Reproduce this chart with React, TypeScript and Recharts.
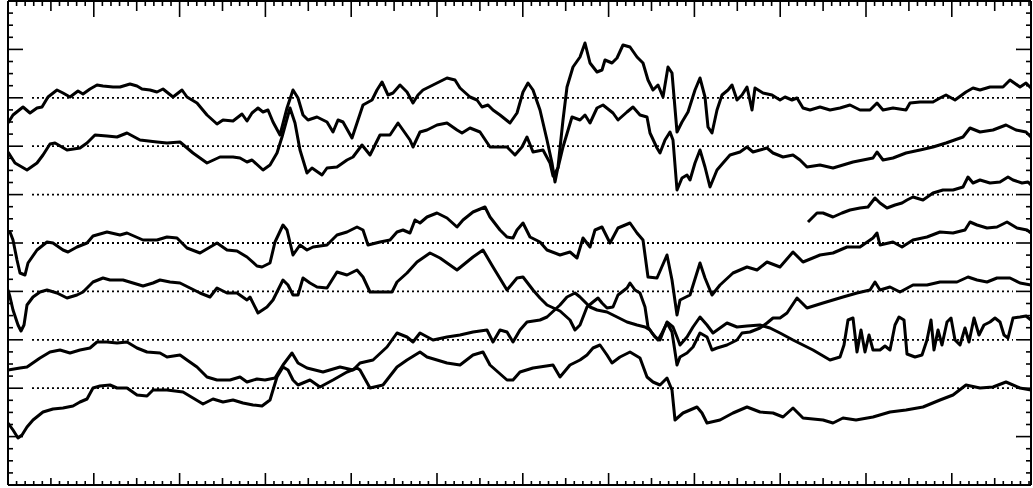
import { Line, LineChart, ReferenceLine, XAxis, YAxis } from "recharts";

type Pt = [number, number];

const trace1: Pt[] = [
  [0, 362], [5, 370], [15, 378], [22, 372], [29, 377], [34, 378], [40, 388], [49, 395], [55, 392], [62, 388],
  [70, 394], [75, 391], [82, 396], [89, 400], [95, 399], [105, 398], [112, 398], [122, 401], [129, 399], [134, 396],
  [142, 395], [149, 393], [155, 396], [165, 388], [174, 395], [179, 388], [189, 382], [199, 370], [209, 361], [215, 365],
  [225, 364], [234, 371], [239, 364], [244, 372], [250, 377], [255, 373], [260, 375], [265, 363], [272, 350], [279, 377],
  [285, 395], [290, 387], [295, 370], [300, 365], [309, 368], [319, 363], [325, 353], [330, 365], [335, 363], [344, 347],
  [349, 362], [355, 380], [364, 385], [369, 395], [374, 403], [380, 390], [385, 392], [392, 400], [399, 393], [405, 382],
  [410, 390], [415, 395], [425, 400], [439, 407], [447, 405], [452, 397], [462, 388], [469, 385], [474, 378], [480, 380],
  [485, 375], [492, 370], [502, 362], [509, 372], [515, 393], [520, 402], [525, 395], [532, 375], [539, 345], [544, 322],
  [547, 303], [550, 318], [555, 365], [559, 398], [565, 418], [572, 428], [577, 442], [582, 422], [589, 413], [594, 415],
  [597, 425], [604, 422], [609, 427], [615, 440], [622, 438], [629, 428], [635, 422], [640, 405], [645, 395], [650, 400],
  [655, 388], [660, 418], [664, 412], [669, 353], [674, 363], [680, 373], [687, 395], [692, 407], [697, 388], [700, 358],
  [704, 352], [709, 375], [714, 390], [720, 395], [724, 400], [729, 385], [734, 390], [739, 398], [744, 375], [747, 397],
  [755, 392], [764, 390], [772, 385], [777, 388], [784, 385], [789, 387], [795, 377], [802, 375], [812, 378], [822, 375],
  [832, 377], [842, 380], [852, 375], [862, 375], [869, 382], [875, 375], [885, 377], [898, 375], [902, 382], [912, 383],
  [925, 383], [932, 387], [938, 390], [947, 385], [958, 393], [965, 397], [972, 395], [982, 398], [995, 398], [1002, 405],
  [1012, 398], [1018, 402], [1023, 397],
];

const trace2: Pt[] = [
  [0, 333], [7, 322], [19, 315], [29, 322], [35, 330], [42, 341], [47, 342], [59, 335], [72, 337], [79, 342],
  [87, 350], [99, 349], [109, 348], [119, 352], [132, 345], [149, 343], [159, 342], [172, 343], [185, 332], [199, 322],
  [212, 328], [225, 328], [232, 327], [239, 323], [244, 325], [255, 315], [262, 320], [269, 332], [274, 348], [282, 377],
  [287, 362], [292, 335], [299, 312], [304, 317], [314, 310], [319, 317], [329, 318], [339, 325], [345, 328], [354, 340],
  [362, 330], [372, 350], [382, 350], [390, 362], [402, 345], [405, 338], [412, 353], [419, 355], [429, 360], [439, 362],
  [449, 355], [454, 352], [462, 357], [472, 353], [482, 338], [492, 338], [499, 338], [507, 330], [514, 338], [519, 348],
  [525, 333], [535, 335], [542, 322], [545, 309], [550, 317], [555, 338], [564, 368], [572, 365], [577, 370], [582, 362],
  [589, 377], [595, 380], [605, 372], [610, 365], [619, 373], [625, 378], [632, 370], [639, 368], [642, 352], [649, 337],
  [652, 332], [657, 345], [662, 353], [665, 345], [669, 295], [674, 307], [679, 310], [682, 305], [687, 322], [692, 335],
  [697, 318], [702, 298], [709, 315], [715, 322], [722, 330], [732, 333], [739, 338], [745, 333], [752, 335], [759, 337],
  [765, 332], [775, 328], [785, 330], [792, 325], [799, 318], [812, 320], [825, 317], [835, 320], [845, 323], [855, 325],
  [865, 327], [869, 333], [875, 325], [885, 327], [898, 332], [912, 335], [925, 338], [938, 342], [955, 348], [962, 357],
  [972, 353], [985, 355], [998, 360], [1008, 355], [1018, 353], [1023, 348],
];

const trace3: Pt[] = [
  [800, 263], [809, 272], [815, 272], [825, 268], [834, 272], [842, 275], [852, 277], [860, 278], [867, 287], [872, 282],
  [879, 277], [887, 280], [894, 282], [899, 285], [905, 288], [915, 285], [925, 292], [935, 295], [945, 295], [955, 298],
  [960, 308], [965, 302], [972, 305], [982, 302], [992, 303], [1000, 308], [1005, 305], [1014, 302], [1020, 303], [1023, 300],
];

const trace4: Pt[] = [
  [0, 253], [2, 253], [5, 245], [9, 225], [12, 212], [17, 210], [20, 222], [29, 235], [39, 243], [45, 242],
  [55, 235], [60, 233], [69, 238], [79, 242], [85, 249], [99, 253], [112, 250], [119, 252], [135, 245], [149, 245],
  [159, 248], [169, 247], [179, 237], [192, 232], [209, 242], [219, 235], [229, 234], [239, 228], [249, 219], [254, 218],
  [262, 222], [267, 243], [275, 260], [279, 255], [285, 230], [292, 240], [299, 235], [305, 238], [319, 240], [329, 250],
  [339, 253], [349, 258], [355, 255], [360, 240], [372, 243], [382, 245], [389, 253], [395, 255], [402, 252], [407, 265],
  [412, 262], [419, 268], [429, 272], [439, 267], [449, 258], [455, 265], [465, 273], [477, 278], [482, 268], [492, 255],
  [499, 248], [505, 247], [509, 255], [515, 262], [522, 248], [532, 243], [539, 235], [552, 230], [562, 233], [569, 227],
  [575, 247], [582, 238], [587, 255], [594, 258], [602, 242], [610, 257], [622, 262], [629, 252], [635, 245], [640, 208],
  [649, 207], [659, 230], [664, 205], [669, 170], [672, 185], [682, 190], [692, 222], [697, 207], [704, 190], [712, 200],
  [725, 212], [739, 218], [749, 215], [759, 223], [772, 218], [785, 233], [795, 223], [812, 230], [825, 232], [839, 238],
  [852, 238], [865, 247], [869, 252], [872, 240], [885, 243], [894, 238], [905, 245], [919, 248], [932, 253], [945, 252],
  [957, 255], [962, 263], [969, 260], [979, 257], [989, 258], [999, 263], [1009, 257], [1019, 255], [1023, 252],
];

const trace5: Pt[] = [
  [0, 195], [2, 188], [5, 175], [10, 160], [13, 154], [16, 160], [19, 180], [25, 188], [32, 193], [39, 195],
  [49, 192], [59, 187], [69, 190], [75, 193], [85, 203], [95, 207], [102, 205], [115, 205], [125, 202], [135, 199],
  [145, 202], [152, 205], [162, 203], [172, 202], [182, 197], [192, 192], [202, 188], [209, 197], [219, 192], [229, 192],
  [239, 185], [242, 188], [250, 172], [259, 178], [265, 185], [275, 205], [280, 200], [285, 190], [290, 190], [295, 207],
  [302, 202], [309, 198], [319, 197], [329, 213], [339, 210], [349, 215], [355, 208], [362, 193], [375, 193], [384, 193],
  [389, 203], [399, 212], [409, 223], [422, 232], [432, 227], [449, 215], [465, 228], [475, 235], [485, 218], [499, 195],
  [509, 207], [515, 208], [525, 195], [532, 187], [539, 180], [552, 174], [562, 165], [567, 155], [572, 160], [579, 178],
  [585, 183], [590, 187], [594, 182], [599, 177], [605, 178], [610, 190], [619, 197], [622, 202], [627, 195], [632, 192],
  [637, 178], [640, 158], [644, 152], [650, 145], [654, 152], [659, 162], [664, 153], [669, 120], [672, 128], [679, 132],
  [685, 138], [692, 152], [699, 148], [704, 135], [709, 137], [719, 140], [729, 145], [734, 152], [742, 153], [752, 157],
  [759, 162], [765, 167], [772, 167], [779, 172], [789, 187], [799, 177], [815, 182], [835, 188], [849, 192], [862, 195],
  [867, 203], [872, 195], [882, 198], [892, 193], [905, 200], [919, 200], [932, 203], [949, 203], [960, 208], [969, 205],
  [979, 203], [989, 207], [1002, 207], [1012, 202], [1023, 200],
];

const trace6: Pt[] = [
  [0, 115], [12, 117], [19, 118], [32, 127], [42, 133], [52, 135], [62, 132], [72, 135], [82, 137], [89, 143],
  [99, 143], [109, 142], [119, 143], [129, 137], [139, 133], [152, 132], [159, 128], [172, 130], [179, 125], [189, 118],
  [199, 108], [209, 105], [222, 105], [232, 108], [239, 103], [249, 106], [257, 105], [267, 107], [275, 120], [284, 132],
  [290, 122], [299, 117], [315, 113], [332, 118], [345, 115], [352, 122], [365, 125], [379, 138], [389, 152], [399, 148],
  [405, 143], [412, 152], [425, 145], [439, 148], [452, 150], [465, 153], [479, 155], [485, 143], [492, 155], [499, 153],
  [505, 143], [512, 155], [519, 163], [532, 165], [539, 168], [552, 180], [559, 188], [567, 192], [572, 188], [582, 178],
  [589, 175], [599, 173], [609, 168], [619, 163], [629, 160], [637, 158], [642, 155], [647, 148], [652, 145], [659, 163],
  [665, 158], [669, 148], [672, 140], [679, 148], [685, 158], [692, 168], [699, 160], [705, 152], [712, 157], [719, 162],
  [729, 158], [739, 159], [752, 160], [762, 157], [772, 152], [785, 145], [805, 135], [822, 125], [832, 128], [836, 140],
  [840, 165], [845, 167], [849, 133], [853, 155], [857, 133], [861, 150], [865, 135], [872, 135], [877, 139], [882, 135],
  [887, 160], [891, 168], [896, 165], [899, 131], [907, 128], [914, 130], [919, 145], [923, 165], [926, 135], [930, 155],
  [934, 140], [939, 163], [943, 167], [947, 145], [952, 140], [957, 157], [961, 143], [966, 167], [971, 150], [976, 160],
  [982, 163], [987, 167], [992, 163], [996, 150], [1000, 147], [1005, 167], [1012, 168], [1018, 169], [1023, 165],
];

const trace7: Pt[] = [
  [0, 62], [5, 55], [10, 47], [14, 50], [19, 58], [25, 65], [35, 73], [45, 76], [55, 77], [65, 79],
  [72, 83], [79, 86], [85, 97], [92, 99], [102, 100], [109, 97], [119, 97], [129, 90], [139, 89], [145, 95],
  [159, 95], [175, 93], [185, 87], [195, 81], [205, 86], [215, 83], [225, 85], [235, 82], [245, 80], [254, 79],
  [262, 85], [265, 95], [269, 108], [275, 118], [280, 115], [285, 105], [290, 100], [302, 105], [312, 98], [325, 105],
  [339, 113], [349, 117], [352, 115], [362, 97], [375, 100], [389, 118], [399, 125], [412, 133], [419, 128], [439, 122],
  [452, 120], [465, 130], [475, 133], [482, 120], [499, 105], [505, 105], [512, 113], [525, 117], [545, 120], [552, 108],
  [562, 120], [572, 125], [579, 130], [585, 137], [592, 140], [599, 130], [604, 122], [612, 128], [622, 133], [627, 130],
  [632, 127], [639, 108], [645, 103], [652, 100], [659, 107], [664, 95], [667, 65], [675, 72], [689, 78], [694, 72],
  [699, 62], [712, 65], [725, 72], [739, 78], [752, 73], [765, 72], [775, 68], [785, 77], [795, 67], [815, 65],
  [825, 62], [835, 67], [848, 65], [865, 68], [882, 73], [898, 75], [915, 78], [932, 85], [945, 90], [958, 100],
  [972, 97], [985, 98], [998, 103], [1012, 97], [1023, 95],
];

const traces = [trace1, trace2, trace3, trace4, trace5, trace6, trace7];

const X_MAX = 1023;
const Y_MAX = 484;
const X_MINOR = 8.58; // 10 minor divisions per major
const Y_MINOR = 12.1; // 4 minor divisions per major
const gridLevels = [96.8, 145.2, 193.6, 242, 290.4, 338.8, 387.2];
const gridFrom = 24;
const gridTo = 1005;

const xTicks = Array.from({ length: Math.floor(X_MAX / X_MINOR) + 1 }, (_, i) => +(i * X_MINOR).toFixed(2));
const yTicks = Array.from({ length: Math.floor(Y_MAX / Y_MINOR) + 1 }, (_, i) => +(i * Y_MINOR).toFixed(2));

const xLen = (v: number, top: boolean) => {
  const i = Math.round(v / X_MINOR);
  if (i % 10 === 0) return top ? 16 : 12;
  if (i % 5 === 0) return top ? 10 : 7;
  return top ? 5 : 4;
};
const yLen = (v: number) => (Math.round(v / Y_MINOR) % 4 === 0 ? 15 : 5);

const TopTick = ({ x, y, payload }: any) => (
  <line x1={x} x2={x} y1={y} y2={y + xLen(payload.value, true)} stroke="#000" strokeWidth={1.6} />
);
const BottomTick = ({ x, y, payload }: any) => (
  <line x1={x} x2={x} y1={y} y2={y - xLen(payload.value, false)} stroke="#000" strokeWidth={1.6} />
);
const LeftTick = ({ x, y, payload }: any) => (
  <line x1={x} x2={x + yLen(payload.value)} y1={y} y2={y} stroke="#000" strokeWidth={1.6} />
);
const RightTick = ({ x, y, payload }: any) => (
  <line x1={x} x2={x - yLen(payload.value)} y1={y} y2={y} stroke="#000" strokeWidth={1.6} />
);

const axisLine = { stroke: "#000", strokeWidth: 2 };

export default function App() {
  return (
    <div style={{ position: "absolute", left: 0, top: 0, background: "#fff" }}>
      <LineChart width={1033} height={488} margin={{ top: 0, right: 1, bottom: 2, left: 7 }}>
        <XAxis
          xAxisId="b"
          orientation="bottom"
          type="number"
          dataKey="x"
          domain={[0, X_MAX]}
          allowDataOverflow
          ticks={xTicks}
          interval={0}
          height={1}
          tickSize={0}
          tickMargin={0}
          tickLine={false}
          axisLine={axisLine}
          tick={BottomTick}
        />
        <XAxis
          xAxisId="t"
          orientation="top"
          type="number"
          dataKey="x"
          domain={[0, X_MAX]}
          allowDataOverflow
          ticks={xTicks}
          interval={0}
          height={1}
          tickSize={0}
          tickMargin={0}
          tickLine={false}
          axisLine={axisLine}
          tick={TopTick}
        />
        <YAxis
          yAxisId="l"
          orientation="left"
          type="number"
          domain={[0, Y_MAX]}
          allowDataOverflow
          ticks={yTicks}
          interval={0}
          width={1}
          tickSize={0}
          tickMargin={0}
          tickLine={false}
          axisLine={axisLine}
          tick={LeftTick}
        />
        <YAxis
          yAxisId="r"
          orientation="right"
          type="number"
          domain={[0, Y_MAX]}
          allowDataOverflow
          ticks={yTicks}
          interval={0}
          width={1}
          tickSize={0}
          tickMargin={0}
          tickLine={false}
          axisLine={axisLine}
          tick={RightTick}
        />
        {gridLevels.map((v) => (
          <ReferenceLine
            key={v}
            xAxisId="b"
            yAxisId="l"
            segment={[{ x: gridFrom, y: v }, { x: gridTo, y: v }]}
            stroke="#000"
            strokeWidth={1.8}
            strokeDasharray="2 3"
          />
        ))}
        {traces.map((t, i) => (
          <Line
            key={i}
            xAxisId="b"
            yAxisId="l"
            data={t.map(([x, y]) => ({ x, y }))}
            dataKey="y"
            type="linear"
            stroke="#000"
            strokeWidth={3}
            strokeLinejoin="round"
            dot={false}
            activeDot={false}
            isAnimationActive={false}
          />
        ))}
      </LineChart>
    </div>
  );
}
